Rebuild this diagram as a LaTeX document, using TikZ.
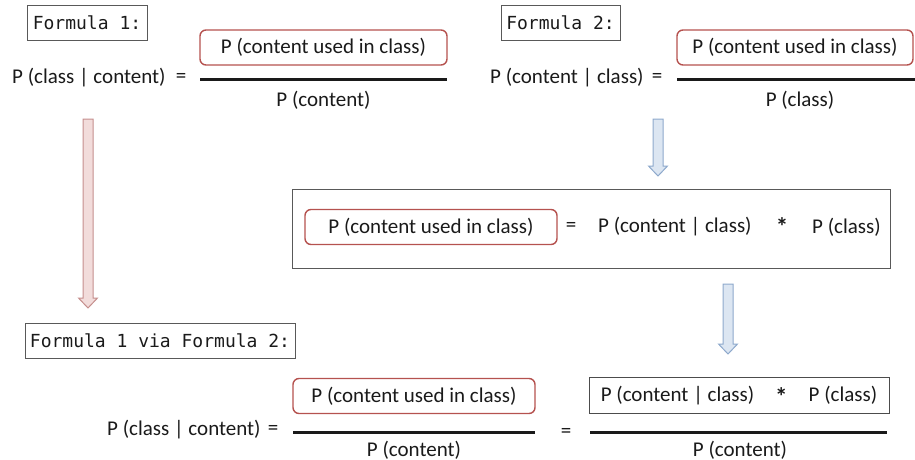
\documentclass[tikz,border=0pt]{standalone}
\usepackage{fontspec}
\setmainfont{Carlito}
\newfontfamily\codefont{DejaVu Sans Mono}

\definecolor{boxred}{HTML}{B5524F}
\definecolor{arrowredfill}{HTML}{F2DCDB}
\definecolor{arrowreddraw}{HTML}{C58F8D}
\definecolor{arrowbluefill}{HTML}{DCE6F2}
\definecolor{arrowbluedraw}{HTML}{8EA9CC}
\definecolor{ink}{HTML}{1A1A1A}

% block arrow pointing down: centre x, top y, tip y, fill, outline
\newcommand\downblockarrow[5]{%
  \filldraw[fill=#4, draw=#5, line width=1pt, line join=miter]
    (#1-5,#2) -- (#1+5,#2) -- (#1+5,#3-10) -- (#1+9.5,#3-10) -- (#1,#3)
    -- (#1-9.5,#3-10) -- (#1-5,#3-10) -- cycle;}

% a heavier, lowered multiplication star
\newcommand\timesstar{{\fontsize{25}{25}\selectfont\bfseries\raisebox{-0.35ex}{*}}}

\begin{document}
\begin{tikzpicture}[x=1pt,y=-1pt,
  txt/.style={font=\fontsize{21}{24}\selectfont, inner sep=0pt, text=ink},
  tag/.style={draw=black!65, line width=0.8pt, text=ink,
    font=\codefont\fontsize{18}{20}\selectfont, inner sep=0pt,
    minimum height=35pt},
  redbox/.style={txt, draw=boxred, line width=1.4pt, rounded corners=6pt,
    minimum height=35pt},
  plainbox/.style={txt, draw=black!70, line width=0.9pt, minimum height=36pt},
  frame/.style={draw=black!65, line width=0.9pt},
  fracline/.style={draw=ink, line width=2.6pt},
]
\useasboundingbox (0,0) rectangle (915,460);

% ---- Formula 1 ----
\node[tag, minimum width=120pt] (f1) at (87,22.5) {Formula 1:};
\node[txt, anchor=west] (f1lhs) at (12,78) {P (class | content)};
\node[txt] (f1eq) at (181,78) {=};
\node[redbox, minimum width=247pt] (f1num) at (323.5,47.5) {P (content used in class)};
\draw[fracline] (200,79.5) -- (447,79.5);
\node[txt] (f1den) at (323.5,100) {P (content)};

% ---- Formula 2 ----
\node[tag, minimum width=119pt] (f2) at (560.5,22.5) {Formula 2:};
\node[txt, anchor=west] (f2lhs) at (490,78) {P (content | class)};
\node[txt] (f2eq) at (657,78) {=};
\node[redbox, minimum width=236pt] (f2num) at (795,47.5) {P (content used in class)};
\draw[fracline] (677,79.5) -- (915,79.5);
\node[txt] (f2den) at (800,100) {P (class)};

% ---- rearranged Formula 2 ----
\draw[frame] (292,189) rectangle (890,268);
\node[redbox, minimum width=252pt] (mnum) at (431,227) {P (content used in class)};
\node[txt] (meq) at (571,227) {=};
\node[txt, anchor=west] (mcond) at (598,227) {P (content | class)};
\node[txt] (mtimes) at (782,227) {\timesstar};
\node[txt, anchor=west] (mprior) at (812,227) {P (class)};

% ---- Formula 1 via Formula 2 ----
\node[tag, minimum width=270pt] (f3) at (160,340.5) {Formula 1 via Formula 2:};
\node[txt, anchor=west] (f3lhs) at (107,430) {P (class | content)};
\node[txt] (f3eq) at (273,430) {=};
\node[redbox, minimum width=242pt] (f3num) at (414,396) {P (content used in class)};
\draw[fracline] (293,432.5) -- (535,432.5);
\node[txt] (f3den) at (414,450) {P (content)};
\node[txt] (f3eqb) at (566,433) {=};
\node[plainbox, minimum width=300pt] (f3prod) at (739,395.5)
  {P (content | class)\hspace{1em}\timesstar\hspace{1em}P (class)};
\draw[fracline] (590,432.5) -- (887,432.5);
\node[txt] (f3denb) at (740,450) {P (content)};

% ---- block arrows ----
\downblockarrow{88}{119}{308}{arrowredfill}{arrowreddraw}
\downblockarrow{658}{119}{176}{arrowbluefill}{arrowbluedraw}
\downblockarrow{728}{284}{354}{arrowbluefill}{arrowbluedraw}
\end{tikzpicture}
\end{document}
